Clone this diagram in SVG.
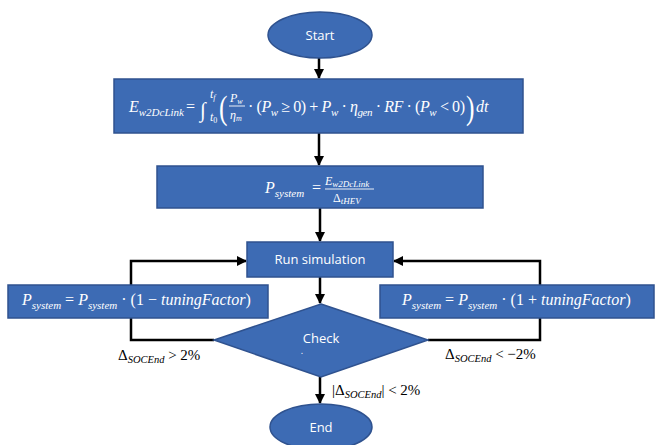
<svg xmlns="http://www.w3.org/2000/svg" width="656" height="445" viewBox="0 0 656 445">
<defs>
<style>
.node{fill:#3d6bb4;stroke:#2f528f;stroke-width:1.5}
.lbl{font-family:"Open Sans","Liberation Sans",sans-serif;fill:#fff;font-size:13px;text-anchor:middle}
.m{font-family:"Liberation Serif",serif;font-style:italic;fill:#fff}
.k{fill:#000}
.up{font-style:normal}
.conn{stroke:#000;stroke-width:2.5;fill:none}
.fl{stroke:#fff;stroke-width:0.9}
</style>
<marker id="ah" viewBox="0 0 10 10" refX="9" refY="5" markerWidth="10" markerHeight="10" markerUnits="userSpaceOnUse" orient="auto">
<path d="M0,0 L10,5 L0,10 Z" fill="#000"/>
</marker>
</defs>
<rect width="656" height="445" fill="#fff"/>

<g id="connectors">
<path class="conn" d="M319,58 V78" marker-end="url(#ah)"/>
<path class="conn" d="M319,133 V165" marker-end="url(#ah)"/>
<path class="conn" d="M320,208 V241" marker-end="url(#ah)"/>
<path class="conn" d="M320,277 V303" marker-end="url(#ah)"/>
<path class="conn" d="M320,377 V403" marker-end="url(#ah)"/>
<path class="conn" d="M214,340 H131 V318"/>
<path class="conn" d="M131,285 V261 H246" marker-end="url(#ah)"/>
<path class="conn" d="M428,340 H540 V318"/>
<path class="conn" d="M540,285 V261 H394" marker-end="url(#ah)"/>
</g>

<g id="start">
<ellipse class="node" cx="320" cy="35" rx="52" ry="23"/>
<text class="lbl" x="320" y="40">Start</text>
</g>

<g id="energy">
<rect class="node" x="114" y="79" width="409" height="54"/>
<text class="m" x="129" y="112" font-size="16">E<tspan font-size="11" dy="4">w2DcLink</tspan></text>
<text class="m up" x="186" y="112" font-size="16">=</text>
<text class="m up" x="200" y="117" font-size="21">∫</text>
<text class="m" x="210" y="98" font-size="12">t<tspan font-size="8" dy="2">f</tspan></text>
<text class="m" x="210" y="121" font-size="12">t<tspan class="up" font-size="8" dy="2">0</tspan></text>
<text class="m up" transform="translate(219,119) scale(0.75,1)" font-size="34">(</text>
<text class="m" x="230" y="102" font-size="12">P<tspan font-size="8" dy="2">w</tspan></text>
<line class="fl" x1="229" y1="106" x2="245" y2="106"/>
<text class="m" x="230" y="119" font-size="12">η<tspan font-size="8" dy="2">m</tspan></text>
<text class="m" x="248" y="112" font-size="16" textLength="217" lengthAdjust="spacing"><tspan class="up">· (</tspan>P<tspan font-size="11" dy="4">w</tspan><tspan class="up" dy="-4"> ≥ 0) + </tspan>P<tspan font-size="11" dy="4">w</tspan><tspan class="up" dy="-4"> · </tspan>η<tspan font-size="11" dy="4">gen</tspan><tspan class="up" dy="-4"> · </tspan>RF<tspan class="up"> · (</tspan>P<tspan font-size="11" dy="4">w</tspan><tspan class="up" dy="-4"> &lt; 0)</tspan></text>
<text class="m up" transform="translate(466,119) scale(0.75,1)" font-size="34">)</text>
<text class="m" x="476" y="112" font-size="16">dt</text>
</g>

<g id="psystem">
<rect class="node" x="157" y="166" width="326" height="42"/>
<text class="m" x="265" y="193" font-size="16">P<tspan font-size="11" dy="4">system</tspan></text>
<text class="m up" x="312" y="193" font-size="16">=</text>
<text class="m" x="325" y="185" font-size="12">E<tspan font-size="9" dy="2">w2DcLink</tspan></text>
<line class="fl" x1="325" y1="189" x2="374" y2="189"/>
<text class="m" x="333" y="202" font-size="12"><tspan class="up">Δ</tspan><tspan font-size="9" dy="2">tHEV</tspan></text>
</g>

<g id="run">
<rect class="node" x="247" y="242" width="146" height="35"/>
<text class="lbl" x="320" y="264">Run simulation</text>
</g>

<g id="decrease">
<rect class="node" x="8" y="285" width="260" height="33"/>
<text class="m" x="22" y="305" font-size="16">P<tspan font-size="11" dy="4">system</tspan><tspan class="up" dy="-4"> = </tspan>P<tspan font-size="11" dy="4">system</tspan><tspan class="up" dy="-4"> · (1 − </tspan>tuningFactor<tspan class="up">)</tspan></text>
</g>

<g id="increase">
<rect class="node" x="380" y="285" width="274" height="33"/>
<text class="m" x="402" y="305" font-size="16">P<tspan font-size="11" dy="4">system</tspan><tspan class="up" dy="-4"> = </tspan>P<tspan font-size="11" dy="4">system</tspan><tspan class="up" dy="-4"> · (1 + </tspan>tuningFactor<tspan class="up">)</tspan></text>
</g>

<g id="check">
<path class="node" d="M321,304 L428,340 L321,377 L214,340 Z"/>
<text class="lbl" x="321" y="343">Check</text>
<text class="lbl" x="302" y="354" style="font-size:9px">.</text>
</g>

<g id="end">
<ellipse class="node" cx="321" cy="427" rx="51" ry="23"/>
<text class="lbl" x="321" y="432">End</text>
</g>

<g id="labels">
<text class="m k up" x="118" y="360" font-size="15">Δ<tspan font-style="italic" font-size="10.5" dy="3">SOCEnd</tspan><tspan dy="-3"> &gt; 2%</tspan></text>
<text class="m k up" x="445" y="359" font-size="15">Δ<tspan font-style="italic" font-size="10.5" dy="3">SOCEnd</tspan><tspan dy="-3"> &lt; −2%</tspan></text>
<text class="m k up" x="332" y="395" font-size="15">|Δ<tspan font-style="italic" font-size="10.5" dy="3">SOCEnd</tspan><tspan dy="-3">| &lt; 2%</tspan></text>
</g>
</svg>
